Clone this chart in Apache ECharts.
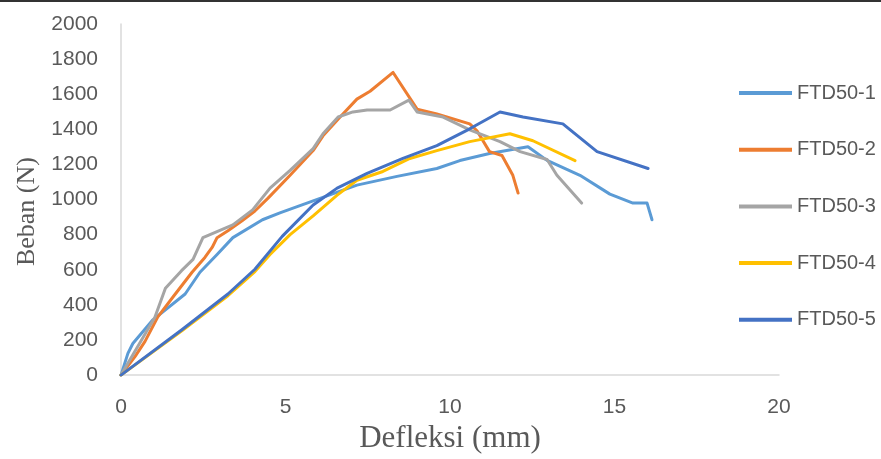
<!DOCTYPE html>
<html>
<head>
<meta charset="utf-8">
<title>Beban - Defleksi FTD50</title>
<script src="https://cdn.jsdelivr.net/npm/echarts@6/dist/echarts.min.js"></script>
<style>
  html, body { margin: 0; padding: 0; background: #ffffff; }
  #chart { width: 881px; height: 459px; }
</style>
</head>
<body>
<div id="chart"></div>
<script>
// Load-deflection readings, [deflection (mm), load (N)]
const ftd50_1 = [[0,0],[0.21,124],[0.36,180],[0.97,315],[1.95,462],[2.4,586],[2.92,687],[3.4,783],[4.3,885],[4.83,924],[5.84,992],[7.17,1082],[8.39,1132],[9.6,1177],[10.3,1222],[11.2,1262],[12.37,1301],[12.95,1223],[13.95,1138],[14.86,1031],[15.56,980],[15.99,980],[16.14,885]];
const ftd50_2 = [[0,0],[0.43,107],[0.73,192],[1.12,332],[1.58,445],[2.16,586],[2.55,670],[2.77,727],[2.92,783],[3.25,822],[3.68,879],[4.07,935],[4.47,1008],[5.14,1138],[5.84,1279],[6.14,1363],[6.66,1470],[7.17,1572],[7.57,1617],[8.27,1724],[9.0,1515],[9.6,1487],[10.6,1431],[10.82,1392],[11.2,1273],[11.58,1251],[11.91,1138],[12.07,1037]];
const ftd50_3 = [[0,0],[0.5,160],[1.03,330],[1.35,495],[1.84,595],[2.19,659],[2.49,783],[3.4,856],[4.0,941],[4.53,1065],[5.14,1166],[5.84,1290],[6.14,1375],[6.6,1470],[7.05,1499],[7.48,1510],[8.18,1510],[8.75,1566],[9.0,1499],[9.79,1470],[10.6,1397],[11.52,1330],[12.13,1273],[12.95,1228],[13.25,1138],[14.0,980]];
const ftd50_4 = [[0,0],[1.85,252],[3.25,452],[4.07,590],[4.53,687],[5.14,800],[5.84,907],[6.57,1025],[7.17,1110],[7.96,1160],[8.78,1234],[9.6,1279],[10.6,1330],[11.82,1375],[12.52,1335],[13.8,1222]];
const ftd50_5 = [[0,0],[1.84,257],[3.25,462],[4.07,603],[4.9,790],[5.84,969],[6.57,1065],[7.48,1149],[8.57,1234],[9.6,1307],[10.6,1403],[11.52,1499],[12.22,1470],[13.43,1431],[14.47,1273],[16.02,1177]];

const seriesNames = ['FTD50-1', 'FTD50-2', 'FTD50-3', 'FTD50-4', 'FTD50-5'];
const seriesData = [ftd50_1, ftd50_2, ftd50_3, ftd50_4, ftd50_5];
const seriesColors = ['#5B9BD5', '#ED7D31', '#A5A5A5', '#FFC000', '#4472C4'];

const xTicks = { min: 0, max: 20, interval: 5 };
const yTicks = { min: 0, max: 2000, interval: 200 };

const chart = echarts.init(document.getElementById('chart'), null, { renderer: 'canvas' });

const labelFont = { fontFamily: 'Liberation Sans', fontSize: 21, color: '#595959' };
const axisLine = { show: true, lineStyle: { color: '#D9D9D9', width: 1.5 } };
const plainNumber = v => String(v);

chart.setOption({
  animation: false,
  backgroundColor: '#ffffff',
  grid: { left: 121, right: 102, top: 24, bottom: 80, containLabel: false },
  xAxis: {
    type: 'value',
    min: xTicks.min, max: xTicks.max, interval: xTicks.interval,
    axisLine: axisLine,
    axisTick: { show: false },
    splitLine: { show: false },
    axisLabel: Object.assign({ margin: 22, formatter: plainNumber }, labelFont),
    name: 'Defleksi (mm)',
    nameLocation: 'middle',
    nameGap: 44,
    nameTextStyle: { fontFamily: 'Liberation Serif', fontSize: 31, color: '#595959' }
  },
  yAxis: {
    type: 'value',
    min: yTicks.min, max: yTicks.max, interval: yTicks.interval,
    axisLine: axisLine,
    axisTick: { show: false },
    splitLine: { show: false },
    axisLabel: Object.assign({ margin: 23, formatter: plainNumber }, labelFont),
    name: 'Beban (N)',
    nameLocation: 'middle',
    nameGap: 80,
    nameTextStyle: { fontFamily: 'Liberation Serif', fontSize: 26, color: '#595959', padding: [0, 24, 0, 0] }
  },
  legend: {
    orient: 'vertical',
    left: 739,
    top: 83,
    padding: 0,
    icon: 'rect',
    itemWidth: 53,
    itemHeight: 4,
    itemGap: 36.7,
    textStyle: { fontFamily: 'Liberation Sans', fontSize: 20, color: '#595959', lineHeight: 20 },
    data: seriesNames
  },
  graphic: [
    { type: 'rect', left: 0, top: 0, shape: { width: 881, height: 2 }, style: { fill: '#333333' }, silent: true }
  ],
  series: seriesNames.map((name, i) => ({
    name: name,
    type: 'line',
    data: seriesData[i],
    symbol: 'none',
    smooth: false,
    lineStyle: { color: seriesColors[i], width: 3, cap: 'round', join: 'round' },
    itemStyle: { color: seriesColors[i] },
    z: 2 + i
  }))
});
</script>
</body>
</html>
